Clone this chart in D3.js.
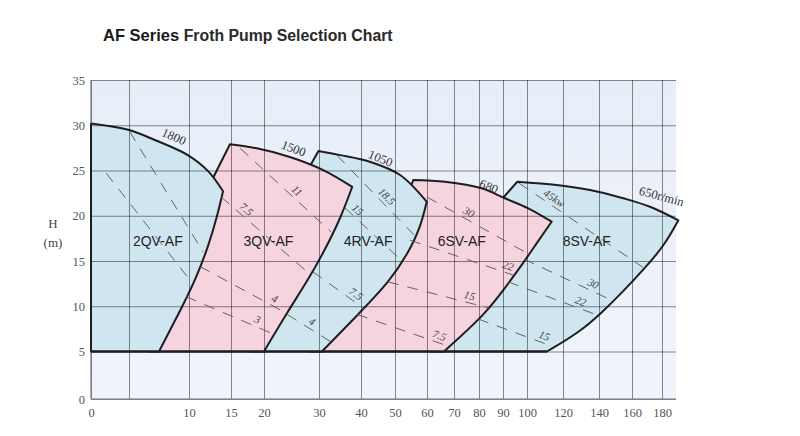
<!DOCTYPE html>
<html><head><meta charset="utf-8">
<script src="https://cdn.jsdelivr.net/npm/d3@7"></script>
<style>body{margin:0;background:#fff}</style>
</head><body>
<svg id="c" width="800" height="436"></svg>
<script>
// ---- data ----
const xTicks=[0,5,10,15,20,30,40,50,60,70,80,90,100,120,140,160,180];
const xTickLabels=["0","","10","15","20","30","40","50","60","70","80","90","100","120","140","160","180"];
const yTicks=[0,5,10,15,20,25,30,35];
const pumps=["2QV-AF","3QV-AF","4RV-AF","6SV-AF","8SV-AF"];
const pumpLabelQ=[7.4,20.8,42.1,73.1,133.2];
const pumpLabelH=[17.1,17.1,17.1,17.1,17.1];
const speeds=["1800","1500","1050","680","650r/min"];
const speedQ=[8.7,25.3,45.6,83.9,179.5];
const speedH=[28.6,27.3,26.2,23.1,22.0];
const speedAngle=[24,21,22,22,15];
// boundaries (Q m3/h, H m)
const top2QV=[[0,30.2],[4.9,29.5],[7.1,28.4],[9.9,26.7],[12.3,24.9],[14.05,22.7]];
const right2QV=[[14.05,22.7],[13.4,20.1],[12.3,16.6],[10.8,13.0],[9.3,9.6],[7.5,5]];
const left2QV=[[0,5]];
const top3QV=[[14.88,27.9],[18.9,27.45],[24.7,26.5],[31.0,25.05],[37.9,23.2]];
const right3QV=[[37.9,23.2],[35.3,19.9],[31.4,16.2],[28.0,12.9],[24.3,9.4],[20,5]];
const left3QV=[[6.75,5],[12.6,23.7]];
const top4RV=[[29.9,27.15],[35,26.7],[42.6,25.97],[51.6,24.5],[59.9,21.55]];
const right4RV=[[59.9,21.55],[58.0,18.75],[54.0,15.8],[48.3,12.7],[40.2,9.5],[30.7,5]];
const left4RV=[[17.9,5],[27.45,24.5]];
const top6SV=[[55.7,23.95],[66.7,23.76],[81.1,23.03],[90.8,21.93],[100.7,20.82],[113.7,19.34]];
const right6SV=[[113.7,19.34],[105.5,17.0],[98.5,14.8],[90.5,11.9],[82.5,9.1],[66.3,5]];
const left6SV=[[28.4,5],[38.6,10.7],[50,17.3],[54.4,22.6]];
const top8SV=[[95.96,23.76],[116.5,23.4],[135,22.85],[154.7,21.93],[172,21.0],[190.9,19.5]];
const right8SV=[[190.9,19.5],[181.5,16.7],[169,14.3],[155,11.7],[141.5,9.25],[128.5,7.04],[111.1,5]];
const left8SV=[[61.1,5],[72.4,10.7],[86.7,20.1],[89.6,21.85]];
// power lines: [Q1,H1,Q2,H2], labels, label position along line
const lines2QV=[[5.06,29.3,11.67,16.0],[2.0,24.7,10.27,12.7]];
const power2QV=["",""]; const pos2QV=[0,0];
const lines3QV=[[16.4,27.45,32.9,18.2],[13.8,22.1,28.5,13.45],[11.3,14.4,24.0,9.25],[9.75,11.07,21.8,6.9]];
const power3QV=["11","7.5","4","3"]; const pos3QV=[0.57,0.23,0.83,0.78];
const lines4RV=[[34.3,26.66,55.9,17.9],[36.2,20.86,51.6,15.2],[28.9,13.8,40.9,9.75],[24.2,9.1,32.9,6.05]];
const power4RV=["18.5","15","7.5","4"]; const pos4RV=[0.58,0.14,0.76,0.48];
const lines6SV=[[60,22.07,100.6,15.8],[54.7,17.3,94.2,13.45],[47.9,12.7,84.2,9.8],[39.05,9.1,67.8,5.6]];
const power6SV=["30","22","15","7.5"]; const pos6SV=[0.38,0.93,0.79,0.88];
const lines8SV=[[96.7,23.6,167.3,14.3],[98.75,15.2,147.3,10.7],[92.1,12.7,139.4,9.0],[79.6,8.6,115,5.5]];
const power8SV=["45kw","30","22","15"]; const pos8SV=[0.25,0.76,0.78,0.84];

// ---- chart ----
const svg=d3.select("#c");
const xs=d3.scaleLinear().domain(xTicks).range([91,129,189,231,264,319,361,395,427,454,479,503,527,563,599,632,662]);
const ys=d3.scaleLinear().domain([0,5,35]).range([399,351.5,80]);
const plotRight=676;
const serif="'Liberation Serif','DejaVu Serif',serif";
const sans="'Liberation Sans',Arial,sans-serif";

// title
const title=svg.append("text").attr("x",103).attr("y",41).attr("font-family",sans).attr("fill","#1a1a1a").attr("font-weight","bold");
title.append("tspan").attr("font-size",16.5).text("AF Series ");
title.append("tspan").attr("font-size",15.8).attr("fill","#2a2a2a").text("Froth Pump Selection Chart");

// background
const grad=svg.append("defs").append("linearGradient").attr("id","bg").attr("x1",0).attr("y1",0).attr("x2",0).attr("y2",1);
grad.append("stop").attr("offset","0%").attr("stop-color","#e8eef8");
grad.append("stop").attr("offset","100%").attr("stop-color","#f0f4fa");
svg.append("rect").attr("x",xs(0)).attr("y",ys(35)).attr("width",plotRight-xs(0)).attr("height",ys(0)-ys(35)).attr("fill","url(#bg)");

const P=d=>[xs(d[0]),ys(d[1])];
const seg=(pts,curve)=>d3.line().curve(curve)(pts.map(P));
function regionPath(top,right,left){
  let s=seg(top,d3.curveCatmullRom.alpha(0.5));
  s+=seg(right,d3.curveBasis).replace(/^M/,"L");
  const lp=left.map(P);
  lp.forEach(p=>{s+="L"+p[0]+","+p[1];});
  return s+"Z";
}
const regions=[
  {top:top2QV,right:right2QV,left:left2QV,fill:"#cfe6f1"},
  {top:top3QV,right:right3QV,left:left3QV,fill:"#f5d4df"},
  {top:top4RV,right:right4RV,left:left4RV,fill:"#cfe6f1"},
  {top:top6SV,right:right6SV,left:left6SV,fill:"#f5d4df"},
  {top:top8SV,right:right8SV,left:left8SV,fill:"#cfe6f1"}
];
const gReg=svg.append("g");
regions.slice().reverse().forEach(r=>{
  gReg.append("path").attr("d",regionPath(r.top,r.right,r.left))
    .attr("fill",r.fill).attr("stroke","#1e1e1e").attr("stroke-width",2).attr("stroke-linejoin","round");
});

// grid + axes
const gx=svg.append("g").attr("transform",`translate(0,${ys(0)})`)
  .call(d3.axisBottom(xs).tickValues(xTicks).tickFormat((d,i)=>xTickLabels[i]).tickSize(-(ys(0)-ys(35))).tickPadding(9));
gx.select(".domain").remove();
gx.selectAll(".tick line").attr("stroke","#000").attr("stroke-opacity",0.45);
gx.selectAll(".tick text").attr("font-family",serif).attr("font-size",12.5).attr("fill","#555");
const gy=svg.append("g").attr("transform",`translate(${xs(0)},0)`)
  .call(d3.axisLeft(ys).tickValues(yTicks).tickSize(-(plotRight-xs(0))).tickPadding(6));
gy.select(".domain").remove();
gy.selectAll(".tick line").attr("stroke","#000").attr("stroke-opacity",0.45);
gy.selectAll(".tick text").attr("font-family",serif).attr("font-size",12.5).attr("fill","#555");
svg.append("line").attr("x1",xs(0)).attr("x2",plotRight).attr("y1",ys(0)).attr("y2",ys(0)).attr("stroke","#777").attr("stroke-width",1.2);
svg.append("line").attr("x1",xs(0)).attr("x2",xs(0)).attr("y1",ys(0)).attr("y2",ys(35)).attr("stroke","#777").attr("stroke-width",1.2);
svg.append("line").attr("x1",xs(0)).attr("x2",xs(111.1)).attr("y1",ys(5)).attr("y2",ys(5)).attr("stroke","#1e1e1e").attr("stroke-width",2);
svg.append("line").attr("x1",xs(0)).attr("x2",xs(0)).attr("y1",ys(5)).attr("y2",ys(30.2)).attr("stroke","#1e1e1e").attr("stroke-width",2);

// axis title
svg.append("text").attr("x",53).attr("y",228).attr("text-anchor","middle").attr("font-family",serif).attr("font-size",13).attr("fill","#444").text("H");
svg.append("text").attr("x",53).attr("y",247).attr("text-anchor","middle").attr("font-family",serif).attr("font-size",13).attr("fill","#444").text("(m)");

// power lines
const gL=svg.append("g");
function drawLines(lines,labels,pos){
  lines.forEach((L,i)=>{
    const x1=xs(L[0]),y1=ys(L[1]),x2=xs(L[2]),y2=ys(L[3]);
    gL.append("line").attr("x1",x1).attr("y1",y1).attr("x2",x2).attr("y2",y2)
      .attr("stroke","#555").attr("stroke-width",0.9).attr("stroke-dasharray","11,9");
    if(labels[i]){
      const a=Math.atan2(y2-y1,x2-x1);
      const px=x1+(x2-x1)*pos[i]+Math.sin(a)*6, py=y1+(y2-y1)*pos[i]-Math.cos(a)*6;
      gL.append("text").attr("transform",`translate(${px},${py}) rotate(${a*180/Math.PI})`)
        .attr("text-anchor","middle").attr("dominant-baseline","middle")
        .attr("font-family",serif).attr("font-style","italic").attr("font-size",11).attr("fill","#444").text(labels[i]);
    }
  });
}
drawLines(lines2QV,power2QV,pos2QV);
drawLines(lines3QV,power3QV,pos3QV);
drawLines(lines4RV,power4RV,pos4RV);
drawLines(lines6SV,power6SV,pos6SV);
drawLines(lines8SV,power8SV,pos8SV);

// speed labels
speeds.forEach((s,i)=>{
  svg.append("text").attr("transform",`translate(${xs(speedQ[i])},${ys(speedH[i])}) rotate(${speedAngle[i]})`)
    .attr("text-anchor","middle").attr("dominant-baseline","middle")
    .attr("font-family",serif).attr("font-size",12.5).attr("fill","#333").text(s);
});
// pump labels
pumps.forEach((p,i)=>{
  svg.append("text").attr("x",xs(pumpLabelQ[i])).attr("y",ys(pumpLabelH[i]))
    .attr("text-anchor","middle").attr("dominant-baseline","middle")
    .attr("font-family",sans).attr("font-size",14).attr("fill","#222").text(p);
});
</script>
</body></html>
